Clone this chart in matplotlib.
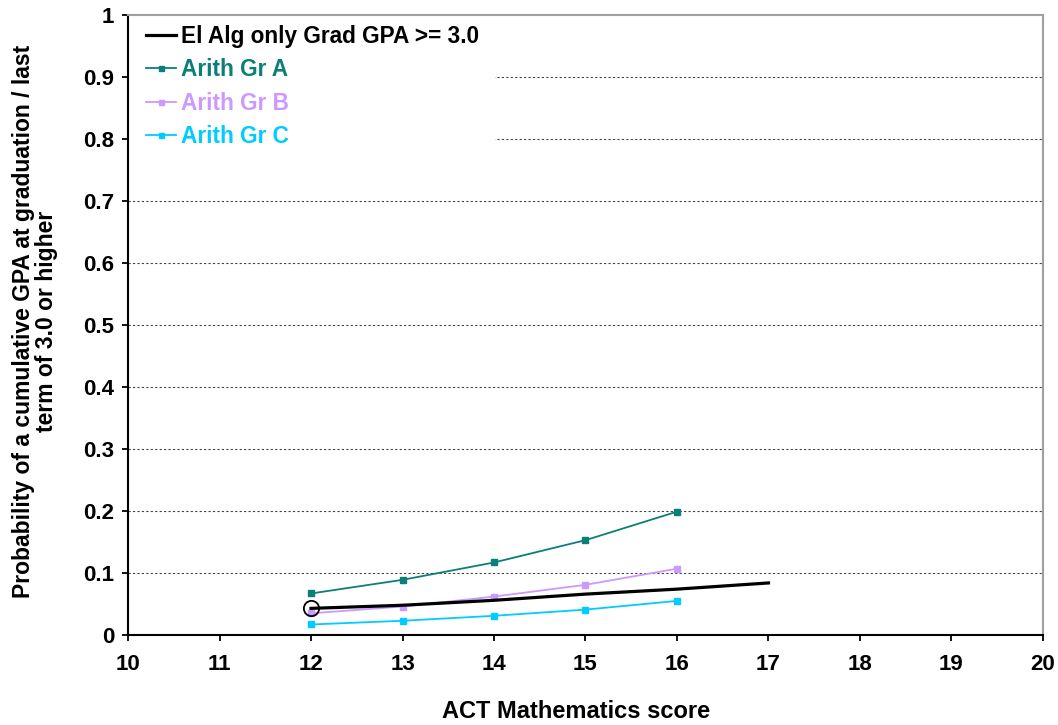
import matplotlib
matplotlib.use("Agg")
import matplotlib.pyplot as plt
from matplotlib.patches import Rectangle

plt.rcParams['font.family'] = ['Liberation Sans', 'DejaVu Sans']

x_black = [12, 13, 14, 15, 16, 17]
y_black = [0.043, 0.048, 0.056, 0.066, 0.074, 0.084]

x_arith = [12, 13, 14, 15, 16]
y_a = [0.067, 0.089, 0.117, 0.153, 0.199]
y_b = [0.035, 0.046, 0.062, 0.081, 0.107]
y_c = [0.017, 0.023, 0.031, 0.041, 0.055]

labels = ["El Alg only Grad GPA >= 3.0", "Arith Gr A", "Arith Gr B", "Arith Gr C"]
colors = ["#000000", "#0B7F78", "#CC99FF", "#00CCFF"]

xticks = list(range(10, 21))
yticks = [0, 0.1, 0.2, 0.3, 0.4, 0.5, 0.6, 0.7, 0.8, 0.9, 1]
ytick_labels = ["0", "0.1", "0.2", "0.3", "0.4", "0.5", "0.6", "0.7", "0.8", "0.9", "1"]

fig = plt.figure(figsize=(10.58, 7.25), dpi=100)
ax = fig.add_axes([0.121, 0.1241, 0.8648, 0.8552])

ax.set_xlim(10, 20)
ax.set_ylim(0, 1)
ax.set_xticks(xticks)
ax.set_yticks(yticks)
ax.set_yticklabels(ytick_labels)
ax.tick_params(axis='both', direction='out', length=4, width=1.3, colors='black',
               labelsize=16)
ax.tick_params(axis='x', pad=10)
ax.tick_params(axis='y', pad=6)
for lab in ax.get_xticklabels() + ax.get_yticklabels():
    lab.set_fontweight('bold')

for yv in yticks[1:-1]:
    ax.axhline(yv, color='#444444', linestyle=(0, (2, 2)), linewidth=0.8, zorder=1)

# white legend background covering gridlines
ax.add_patch(Rectangle((0, 0.742), 0.401, 0.258, transform=ax.transAxes,
                       facecolor='white', edgecolor='none', zorder=2))

ax.spines['left'].set_color('black')
ax.spines['left'].set_linewidth(1.5)
ax.spines['bottom'].set_color('black')
ax.spines['bottom'].set_linewidth(1.5)
ax.spines['top'].set_color('#A0A0A0')
ax.spines['top'].set_linewidth(1.5)
ax.spines['right'].set_color('#A0A0A0')
ax.spines['right'].set_linewidth(1.5)

l0, = ax.plot(x_black, y_black, color=colors[0], linewidth=2.3, zorder=5, label=labels[0])
ax.plot([x_black[0]], [y_black[0]], marker='o', markersize=11, markerfacecolor='none',
        markeredgecolor='black', markeredgewidth=1.3, linestyle='none', zorder=6)
l1, = ax.plot(x_arith, y_a, color=colors[1], linewidth=1.3, marker='s', markersize=4.5, zorder=4, label=labels[1])
l2, = ax.plot(x_arith, y_b, color=colors[2], linewidth=1.3, marker='s', markersize=4.5, zorder=4, label=labels[2])
l3, = ax.plot(x_arith, y_c, color=colors[3], linewidth=1.3, marker='s', markersize=4.5, zorder=4, label=labels[3])

leg = ax.legend(handles=[l0, l1, l2, l3], loc='upper left', bbox_to_anchor=(0.0122, 0.995),
                frameon=False, handlelength=1.33, handletextpad=0.22,
                labelspacing=0.46, borderaxespad=0.0, borderpad=0.3, markerscale=0.8,
                prop={'weight': 'bold', 'size': 16.3})
for t, c in zip(leg.get_texts(), colors):
    t.set_color(c)
leg.set_zorder(10)

ax.text(0.49, -0.1226, "ACT Mathematics score", transform=ax.transAxes,
        ha='center', va='center', fontsize=17, fontweight='bold')
ax.text(-0.102, 0.506, "Probability of a cumulative GPA at graduation / last\nterm of 3.0 or higher",
        transform=ax.transAxes, ha='center', va='center', rotation=90,
        multialignment='center', fontsize=16.5, fontweight='bold', linespacing=1.0)

fig.savefig("out.png", dpi=100)
